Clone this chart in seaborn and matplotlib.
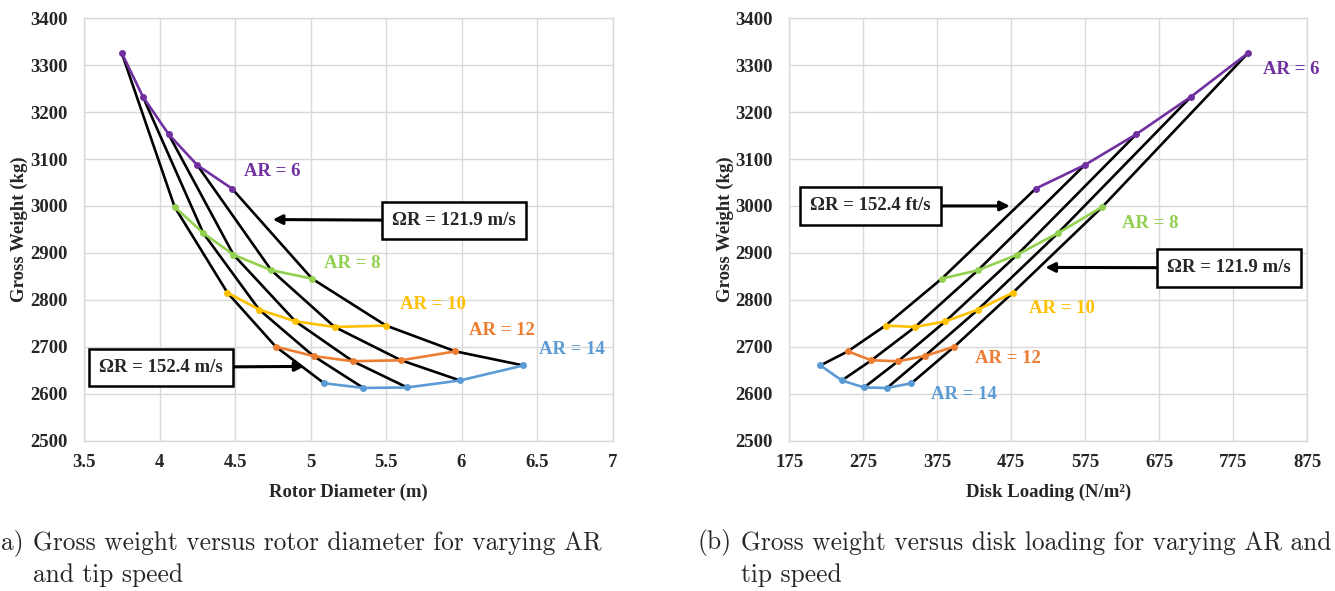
import numpy as np
import pandas as pd
import matplotlib
matplotlib.use("Agg")
import matplotlib.pyplot as plt
import seaborn as sns

# ---------------- data ----------------
aspect_ratios = [6, 8, 10, 12, 14]
ar_labels = ["AR = 6", "AR = 8", "AR = 10", "AR = 12", "AR = 14"]
ar_colors = ["#7030A0", "#92D050", "#FFC000", "#ED7D31", "#5B9BD5"]

# Rotor diameter (m), ordered from smallest to largest within each AR
diam_ar6 = [3.75, 3.89, 4.06, 4.25, 4.48]
diam_ar8 = [4.10, 4.29, 4.49, 4.74, 5.01]
diam_ar10 = [4.45, 4.66, 4.90, 5.16, 5.50]
diam_ar12 = [4.77, 5.02, 5.28, 5.60, 5.96]
diam_ar14 = [5.09, 5.35, 5.64, 5.99, 6.41]

# Gross weight (kg), same ordering
gw_ar6 = [3326, 3233, 3153, 3087, 3037]
gw_ar8 = [2998, 2942, 2896, 2863, 2845]
gw_ar10 = [2815, 2779, 2754, 2742, 2745]
gw_ar12 = [2700, 2680, 2669, 2671, 2690]
gw_ar14 = [2622, 2612, 2613, 2628, 2660]

# Disk loading (N/m^2), same ordering
dl_ar6 = [795, 718, 644, 574, 508]
dl_ar8 = [598, 538, 483, 430, 381]
dl_ar10 = [477, 430, 386, 345, 305]
dl_ar12 = [398, 358, 322, 286, 254]
dl_ar14 = [340, 307, 276, 246, 217]

tip_index = [1, 2, 3, 4, 5]

diams = [diam_ar6, diam_ar8, diam_ar10, diam_ar12, diam_ar14]
gws = [gw_ar6, gw_ar8, gw_ar10, gw_ar12, gw_ar14]
dls = [dl_ar6, dl_ar8, dl_ar10, dl_ar12, dl_ar14]

rows = []
for ar, d_list, w_list, l_list in zip(aspect_ratios, diams, gws, dls):
    for t, d, w, l in zip(tip_index, d_list, w_list, l_list):
        rows.append({"AR": ar, "tip": t, "D": d, "W": w, "DL": l})
df = pd.DataFrame(rows)

x_ticks_left = [3.5, 4, 4.5, 5, 5.5, 6, 6.5, 7]
x_ticklabels_left = ["3.5", "4", "4.5", "5", "5.5", "6", "6.5", "7"]
x_ticks_right = [175, 275, 375, 475, 575, 675, 775, 875]
y_ticks = [2500, 2600, 2700, 2800, 2900, 3000, 3100, 3200, 3300, 3400]

# ---------------- styling ----------------
sns.set_theme(style="white")
serif = ["Liberation Serif", "DejaVu Serif"]
plt.rcParams["font.family"] = serif
FS = 13.5

fig = plt.figure(figsize=(13.35, 5.91), dpi=100)
W_px, H_px = 1335, 591
axL = fig.add_axes([84 / W_px, 1 - 440.5 / H_px, 528.5 / W_px, 422.2 / H_px])
axR = fig.add_axes([789.3 / W_px, 1 - 440.5 / H_px, 518 / W_px, 422.2 / H_px])

palette = dict(zip(aspect_ratios, ar_colors))


def draw(ax, xcol):
    sns.lineplot(data=df, x=xcol, y="W", units="tip", estimator=None,
                 color="black", linewidth=1.9, marker="o", markersize=3,
                 markeredgewidth=0, ax=ax, zorder=3)
    sns.lineplot(data=df, x=xcol, y="W", hue="AR", palette=palette,
                 estimator=None, units="AR", linewidth=1.9, marker="o",
                 markersize=5, markeredgewidth=0, legend=False, ax=ax, zorder=4)
    ax.set_ylim(2500, 3400)
    ax.set_yticks(y_ticks)
    ax.set_yticklabels([str(v) for v in y_ticks])
    ax.grid(True, color="#D9D9D9", linewidth=1.0)
    ax.set_axisbelow(True)
    for s in ax.spines.values():
        s.set_color("#D9D9D9")
        s.set_linewidth(1.0)
    ax.tick_params(axis="y", length=0, labelsize=FS, pad=12)
    ax.tick_params(axis="x", length=0, labelsize=FS, pad=10)
    ax.set_ylabel("Gross Weight (kg)", fontsize=FS, fontweight="bold", labelpad=1)


draw(axL, "D")
axL.set_xlim(3.5, 7)
axL.set_xticks(x_ticks_left)
axL.set_xticklabels(x_ticklabels_left)
axL.set_xlabel("Rotor Diameter (m)", fontsize=FS, fontweight="bold", labelpad=9)

draw(axR, "DL")
axR.set_xlim(175, 875)
axR.set_xticks(x_ticks_right)
axR.set_xticklabels([str(v) for v in x_ticks_right])
axR.set_xlabel("Disk Loading (N/m²)", fontsize=FS, fontweight="bold", labelpad=9)

for ax in (axL, axR):
    for lab in ax.get_xticklabels() + ax.get_yticklabels():
        lab.set_fontweight("bold")

# AR labels
left_label_pos = [(4.56, 3074), (5.09, 2877), (5.59, 2790), (6.05, 2735), (6.51, 2693)]
right_label_pos = [(815, 3290), (624, 2962), (499, 2781), (426, 2674), (366, 2598)]
for (x, y), txt, c in zip(left_label_pos, ar_labels, ar_colors):
    axL.text(x, y, txt, color=c, fontsize=FS, fontweight="bold", va="center", ha="left")
for (x, y), txt, c in zip(right_label_pos, ar_labels, ar_colors):
    axR.text(x, y, txt, color=c, fontsize=FS, fontweight="bold", va="center", ha="left",
             clip_on=False)

box = dict(boxstyle="square,pad=0.55", fc="white", ec="black", lw=1.8)
arrow = dict(arrowstyle="-|>", color="black", lw=2.2, mutation_scale=14, shrinkA=0, shrinkB=0)

axL.annotate("ΩR = 121.9 m/s", xy=(4.75, 2971), xytext=(5.95, 2969),
             fontsize=FS, fontweight="bold", ha="center", va="center",
             bbox=box, arrowprops=arrow, zorder=6)
axL.annotate("ΩR = 152.4 m/s", xy=(4.96, 2658), xytext=(4.01, 2656),
             fontsize=FS, fontweight="bold", ha="center", va="center",
             bbox=box, arrowprops=arrow, zorder=6)
axR.annotate("ΩR = 152.4 ft/s", xy=(473, 3000), xytext=(285, 3000),
             fontsize=FS, fontweight="bold", ha="center", va="center",
             bbox=box, arrowprops=arrow, zorder=6)
axR.annotate("ΩR = 121.9 m/s", xy=(521, 2869), xytext=(769, 2868),
             fontsize=FS, fontweight="bold", ha="center", va="center",
             bbox=box, arrowprops=arrow, zorder=6, annotation_clip=False)

# captions
cap = dict(fontsize=18.3, family=["cmr10", "DejaVu Serif"], va="center", ha="left")
fig.text(1 / W_px, 1 - 543 / H_px, "a)", **cap)
fig.text(33 / W_px, 1 - 543 / H_px, "Gross weight versus rotor diameter for varying AR", **cap)
fig.text(33 / W_px, 1 - 575 / H_px, "and tip speed", **cap)
fig.text(697 / W_px, 1 - 543 / H_px, "(b)", **cap)
fig.text(741 / W_px, 1 - 543 / H_px, "Gross weight versus disk loading for varying AR and", **cap)
fig.text(741 / W_px, 1 - 575 / H_px, "tip speed", **cap)

fig.savefig("out.png", dpi=100, facecolor="white")
